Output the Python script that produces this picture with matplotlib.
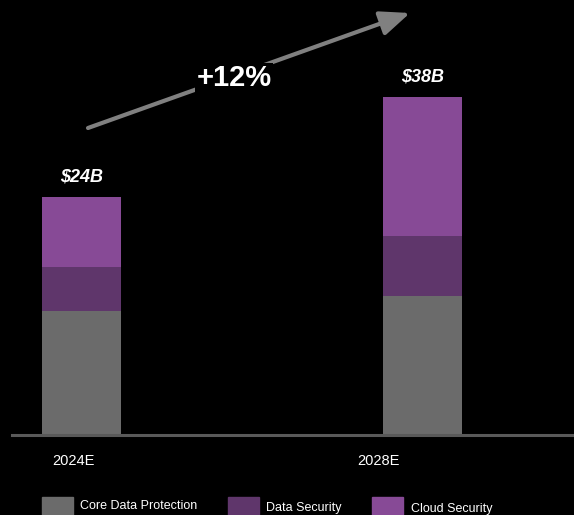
import matplotlib.pyplot as plt
from matplotlib.patches import Rectangle

plt.rcParams['font.family'] = ['Liberation Sans', 'DejaVu Sans']

years = ['2024E', '2028E']
core = [12.4, 13.9]
data_sec = [4.4, 6.0]
cloud = [7.0, 13.9]
totals = ['$24B', '$38B']
growth = '+12%'
series = ['Core Data Protection', 'Data Security', 'Cloud Security']
colors = ['#6b6b6b', '#5f366b', '#874a96']

fig = plt.figure(figsize=(5.74, 5.15), dpi=100, facecolor='black')
ax = fig.add_axes([0, 0, 1, 1])
ax.set_facecolor('black')
ax.set_xlim(-0.239, 1.444)
ax.set_ylim(-8.0, 43.5)
ax.axis('off')

x = [0, 1]
w = 0.232
b1 = [c + d for c, d in zip(core, data_sec)]
ax.bar(x, core, width=w, color=colors[0], zorder=2)
ax.bar(x, data_sec, width=w, bottom=core, color=colors[1], zorder=2)
ax.bar(x, cloud, width=w, bottom=b1, color=colors[2], zorder=2)

ax.axhline(0, xmin=12 / 574, xmax=1, color='#595959', lw=2.2, zorder=3)

# year labels sit a little left of the bars
label_x = [-0.025, 0.872]
for lx, yr in zip(label_x, years):
    ax.text(lx, -2.6, yr, color='white', fontsize=10.5, ha='center', va='center')

for xi, c, d, cl, t in zip(x, core, data_sec, cloud, totals):
    ax.text(xi, c + d + cl + 2.0, t, color='white', fontsize=13,
            fontweight='bold', fontstyle='italic', ha='center', va='center')

ax.annotate('', xy=(0.963, 42.2), xytext=(0.019, 30.7),
            arrowprops=dict(arrowstyle='-|>,head_length=1.8,head_width=0.75',
                            color='#808080', lw=3, shrinkA=0, shrinkB=0))
ax.text(0.447, 35.7, growth, color='white', fontsize=21, fontweight='bold',
        ha='center', va='center', zorder=5,
        bbox=dict(facecolor='black', edgecolor='none', pad=1))

# legend along the bottom edge
leg_x = [42, 228, 372]
txt_x = [80, 266, 411]
txt_y = [506, 508, 509]
for lx, tx, ty, name, col in zip(leg_x, txt_x, txt_y, series, colors):
    fig.patches.append(Rectangle((lx / 574, (515 - 528) / 515), 31 / 574, 31 / 515,
                                 transform=fig.transFigure, color=col))
    fig.text(tx / 574, 1 - ty / 515, name, color='white', fontsize=9,
             ha='left', va='center')

fig.savefig('out.png', dpi=100, facecolor='black')
